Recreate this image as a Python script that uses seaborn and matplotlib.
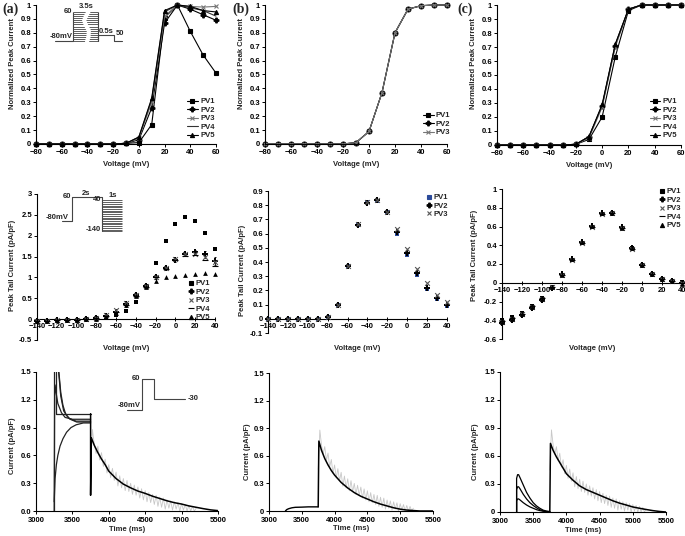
import pandas as pd
import seaborn as sns
import matplotlib.pyplot as plt
from matplotlib.lines import Line2D
from matplotlib.ticker import MultipleLocator, FormatStrFormatter

# ---------------- data ----------------
act_mv = [-80, -70, -60, -50, -40, -30, -20, -10, 0, 10, 20, 30, 40, 50, 60]
act_a = {
    "PV1": [0, 0, 0, 0, 0, 0, 0, 0.005, 0.01, 0.14, 0.91, 1.0, 0.81, 0.64, 0.51],
    "PV2": [0, 0, 0, 0, 0, 0, 0, 0.005, 0.03, 0.26, 0.87, 1.0, 0.97, 0.93, 0.89],
    "PV3": [0, 0, 0, 0, 0, 0, 0, 0.005, 0.04, 0.30, 0.92, 1.0, 0.99, 0.985, 0.99],
    "PV4": [0, 0, 0, 0, 0, 0, 0, 0.005, 0.05, 0.32, 0.95, 1.0, 0.98, 0.96, 0.92],
    "PV5": [0, 0, 0, 0, 0, 0, 0, 0.005, 0.05, 0.33, 0.96, 1.0, 0.99, 0.96, 0.95],
}
act_b = {
    "PV1": [0, 0, 0, 0, 0, 0, 0, 0.01, 0.09, 0.37, 0.80, 0.97, 0.995, 1.0, 1.0],
    "PV2": [0, 0, 0, 0, 0, 0, 0, 0.01, 0.09, 0.37, 0.80, 0.97, 0.995, 1.0, 1.0],
    "PV3": [0, 0, 0, 0, 0, 0, 0, 0.01, 0.09, 0.37, 0.80, 0.97, 0.995, 1.0, 1.0],
}
act_c = {
    "PV1": [0, 0, 0, 0, 0, 0, 0.005, 0.04, 0.20, 0.63, 0.96, 1.0, 1.0, 1.0, 1.0],
    "PV2": [0, 0, 0, 0, 0, 0, 0.005, 0.06, 0.28, 0.71, 0.97, 1.0, 1.0, 1.0, 1.0],
    "PV3": [0, 0, 0, 0, 0, 0, 0.005, 0.05, 0.27, 0.70, 0.97, 1.0, 1.0, 1.0, 1.0],
    "PV4": [0, 0, 0, 0, 0, 0, 0.005, 0.06, 0.28, 0.72, 0.97, 1.0, 1.0, 1.0, 1.0],
    "PV5": [0, 0, 0, 0, 0, 0, 0.005, 0.06, 0.29, 0.72, 0.97, 1.0, 1.0, 1.0, 1.0],
}

tail_mv = [-140, -130, -120, -110, -100, -90, -80, -70, -60, -50, -40, -30, -20, -10, 0, 10, 20, 30, 40]
tail_a = {
    "PV1": [-0.05, -0.05, -0.04, -0.03, -0.02, 0.0, 0.02, 0.05, 0.09, 0.19, 0.40, 0.79, 1.34, 1.88, 2.28, 2.44, 2.36, 2.07, 1.69],
    "PV2": [-0.04, -0.04, -0.03, -0.02, -0.02, 0.0, 0.02, 0.08, 0.18, 0.36, 0.57, 0.79, 1.01, 1.22, 1.42, 1.55, 1.60, 1.55, 1.40],
    "PV3": [-0.04, -0.04, -0.03, -0.02, -0.02, 0.0, 0.03, 0.10, 0.22, 0.39, 0.59, 0.79, 1.02, 1.22, 1.43, 1.55, 1.57, 1.50, 1.38],
    "PV4": [-0.04, -0.04, -0.03, -0.02, -0.02, 0.0, 0.02, 0.07, 0.17, 0.35, 0.56, 0.78, 1.00, 1.21, 1.41, 1.52, 1.54, 1.42, 1.28],
    "PV5": [-0.04, -0.04, -0.03, -0.02, -0.02, 0.0, 0.01, 0.05, 0.14, 0.33, 0.55, 0.78, 0.91, 1.00, 1.04, 1.06, 1.09, 1.10, 1.09],
}
tail_a_err = [0, 0, 0, 0, 0, 0.01, 0.03, 0.05, 0.07, 0.06, 0.05, 0.03, 0.04, 0.03, 0.04, 0.04, 0.05, 0.08, 0.10]
tail_b = {
    "PV1": [0, 0, 0, 0, 0, 0, 0.01, 0.10, 0.37, 0.66, 0.82, 0.83, 0.75, 0.60, 0.45, 0.31, 0.21, 0.14, 0.09],
    "PV2": [0, 0, 0, 0, 0, 0, 0.01, 0.10, 0.37, 0.66, 0.815, 0.835, 0.75, 0.61, 0.46, 0.32, 0.22, 0.145, 0.095],
    "PV3": [0, 0, 0, 0, 0, 0, 0.01, 0.10, 0.37, 0.67, 0.82, 0.84, 0.75, 0.63, 0.49, 0.35, 0.25, 0.17, 0.12],
}
tail_c = {
    "PV1": [-0.40, -0.37, -0.32, -0.25, -0.16, -0.05, 0.08, 0.24, 0.42, 0.60, 0.73, 0.74, 0.58, 0.37, 0.19, 0.09, 0.04, 0.015, 0.005],
    "PV2": [-0.43, -0.40, -0.34, -0.27, -0.18, -0.06, 0.09, 0.25, 0.43, 0.61, 0.74, 0.74, 0.59, 0.37, 0.19, 0.09, 0.04, 0.015, 0.0],
    "PV3": [-0.42, -0.39, -0.33, -0.26, -0.17, -0.05, 0.08, 0.24, 0.42, 0.60, 0.73, 0.74, 0.58, 0.36, 0.19, 0.09, 0.04, 0.015, 0.0],
    "PV4": [-0.41, -0.38, -0.33, -0.25, -0.16, -0.05, 0.08, 0.24, 0.42, 0.60, 0.73, 0.74, 0.58, 0.36, 0.19, 0.09, 0.04, 0.015, 0.0],
    "PV5": [-0.42, -0.39, -0.33, -0.26, -0.17, -0.05, 0.08, 0.25, 0.43, 0.61, 0.74, 0.74, 0.58, 0.37, 0.19, 0.09, 0.04, 0.015, -0.01],
}

# current traces (ms, pA/pF)
pre_a = [
    ([3250, 3250, 3280, 3280, 3750], [0.0, 1.6, 1.6, 1.05, 1.05]),
    ([3250, 3256, 3262, 3275, 3300, 3350, 3400, 3500, 3750], [0.0, 1.25, 1.36, 1.28, 1.16, 1.06, 1.01, 0.99, 0.99]),
    ([3262, 3300, 3320, 3340, 3380, 3450, 3550, 3750], [1.6, 1.6, 1.42, 1.24, 1.08, 1.00, 0.97, 0.97]),
    ([3300, 3320, 3340, 3370, 3410, 3470, 3560, 3750], [1.6, 1.45, 1.28, 1.14, 1.04, 0.99, 0.96, 0.96]),
    ([3250, 3262, 3280, 3300, 3330, 3370, 3420, 3480, 3550, 3650, 3750], [0.1, 0.35, 0.5, 0.6, 0.70, 0.78, 0.85, 0.90, 0.93, 0.95, 0.95]),
]
pre_b = [
    ([3250, 3270, 3300, 3350, 3400, 3500, 3600, 3750], [0.0, 0.015, 0.025, 0.035, 0.04, 0.042, 0.045, 0.045]),
]
pre_c_t = [3250, 3250, 3265, 3280, 3300, 3350, 3400, 3450, 3500, 3550, 3600, 3650, 3700, 3750]
pre_c = [
    [0, 0.36, 0.40, 0.40, 0.37, 0.29, 0.21, 0.15, 0.10, 0.065, 0.04, 0.02, 0.01, 0.005],
    [0, 0.24, 0.27, 0.27, 0.25, 0.19, 0.14, 0.10, 0.07, 0.045, 0.025, 0.012, 0.006, 0.003],
    [0, 0.12, 0.14, 0.14, 0.13, 0.10, 0.075, 0.055, 0.04, 0.025, 0.015, 0.008, 0.004, 0.002],
]
decay_t = [3750, 3750, 3760, 3800, 3850, 3900, 3950, 4000, 4100, 4200, 4300, 4400, 4500, 4600,
           4700, 4800, 4900, 5000, 5100, 5200, 5300, 5400, 5500]
decay_a = [1.05, 0.17, 0.79, 0.71, 0.63, 0.56, 0.50, 0.43, 0.35, 0.29, 0.25, 0.215, 0.19, 0.16,
           0.135, 0.11, 0.09, 0.075, 0.055, 0.04, 0.025, 0.012, 0.004]
decay_b = [0.045, 0.045, 0.76, 0.66, 0.57, 0.50, 0.44, 0.39, 0.31, 0.25, 0.20, 0.16, 0.13, 0.10,
           0.075, 0.055, 0.035, 0.02, 0.01, 0.005, 0.0, 0.0, 0.0]
decay_c = [0.0, 0.0, 0.735, 0.66, 0.59, 0.53, 0.47, 0.41, 0.34, 0.28, 0.24, 0.21, 0.18, 0.15,
           0.12, 0.095, 0.075, 0.054, 0.04, 0.027, 0.015, 0.006, 0.0]
raw_t = [3750, 3775, 3800, 3825, 3850, 3875, 3900, 3925, 3950, 3975, 4000, 4025, 4050, 4075, 4100,
         4125, 4150, 4175, 4200, 4225, 4250, 4275, 4300, 4325, 4350, 4375, 4400, 4425, 4450, 4475,
         4500, 4525, 4550, 4575, 4600, 4625, 4650, 4675, 4700, 4725, 4750, 4775, 4800, 4825, 4850,
         4875, 4900, 4925, 4950, 4975, 5000, 5025, 5050, 5075, 5100, 5125, 5150, 5175, 5200]
raw_i = [0.45, 0.88, 0.72, 0.62, 0.70, 0.55, 0.63, 0.48, 0.56, 0.41,
         0.50, 0.36, 0.46, 0.33, 0.42, 0.27, 0.38, 0.25, 0.35, 0.22,
         0.33, 0.21, 0.30, 0.18, 0.28, 0.17, 0.26, 0.14, 0.24, 0.12,
         0.22, 0.10, 0.20, 0.09, 0.18, 0.07, 0.17, 0.05, 0.15, 0.04,
         0.14, 0.02, 0.12, 0.03, 0.11, 0.01, 0.10, 0.02, 0.09, 0.0,
         0.08, 0.01, 0.07, 0.0, 0.06, 0.0, 0.05, 0.0, 0.03]

# voltage protocols (schematic time units, mV)
proto1_steps = [-80, -70, -60, -50, -40, -30, -20, -10, 0, 10, 20, 30, 40, 50, 60]
proto1_tail_t = [2.4, 2.4, 3.3, 3.3, 3.7]
proto1_tail_mv = [-80, -50, -50, -80, -80]
proto2_t = [0, 0.5, 0.5, 2.0, 2.0]
proto2_mv = [-80, -80, 60, 60, -140]
proto2_steps = [-140, -130, -120, -110, -100, -90, -80, -70, -60, -50, -40, -30, -20, -10, 0, 10, 20, 30, 40]
proto3_t = [0, 0.5, 0.5, 0.9, 0.9, 1.93]
proto3_mv = [-80, -80, 60, 60, -30, -30]

# ---------------- style ----------------
sns.set_style("ticks")
plt.rcParams['font.family'] = ['Liberation Sans', 'DejaVu Sans']
plt.rcParams['font.weight'] = 'bold'
plt.rcParams['axes.labelweight'] = 'bold'
plt.rcParams['font.size'] = 5.5
FS = 5.5

W, H = 685, 536
fig = plt.figure(figsize=(W / 100, H / 100), dpi=100)


def px_axes(l, t, r, b):
    return fig.add_axes([l / W, 1 - b / H, (r - l) / W, (b - t) / H])


def style_axes(ax, xlim, ylim, xstep, ystep, yfmt='%g'):
    ax.set_xlim(*xlim)
    ax.set_ylim(*ylim)
    ax.xaxis.set_major_locator(MultipleLocator(xstep))
    ax.yaxis.set_major_locator(MultipleLocator(ystep))
    ax.yaxis.set_major_formatter(FormatStrFormatter(yfmt))
    for s in ['top', 'right']:
        ax.spines[s].set_visible(False)
    for s in ['left', 'bottom']:
        ax.spines[s].set_linewidth(0.8)
        ax.spines[s].set_color('k')
    ax.tick_params(labelsize=FS, length=2, width=0.7, pad=1.5, colors='k')


def set_labels(ax, xl, yl, xy, yx, yy=0.5):
    ax.set_xlabel(xl, fontsize=FS, fontweight='bold')
    ax.set_ylabel(yl, fontsize=FS, fontweight='bold')
    ax.xaxis.label.set_va('center')
    ax.yaxis.label.set_va('center')
    ax.xaxis.set_label_coords(0.5, xy)
    ax.yaxis.set_label_coords(yx, yy)


def add_legend(ax, styles, x, y, line=True):
    handles = []
    for name, (m, c, ms) in styles.items():
        handles.append(Line2D([], [], color=c, marker=m if m else None, ls='-' if line else 'none',
                              lw=0.8, markersize=ms, mec=c, mew=0.8))
    ax.legend(handles, list(styles.keys()), loc='upper left', bbox_to_anchor=(x, y), frameon=False,
              fontsize=FS, handlelength=1.4 if line else 0.6, handletextpad=0.3,
              labelspacing=0.15, borderpad=0, borderaxespad=0)


line_styles = {"PV1": ('s', 'k', 3), "PV2": ('P', 'k', 3.5), "PV3": ('x', '#777777', 3),
               "PV4": (None, '#333333', 3), "PV5": ('^', 'k', 3)}
dot_styles = {"PV1": ('s', 'k', 3), "PV2": ('P', 'k', 3.5), "PV3": ('x', '#555555', 3),
              "PV4": ('_', 'k', 4), "PV5": ('^', 'k', 3)}

# ---------------- row 1: activation ----------------
row1 = [(act_a, (36, 5, 216, 144), (0.839, 0.33)),
        (act_b, (265, 5, 447, 144), (0.868, 0.23)),
        (act_c, (497, 5, 681, 145), (0.83, 0.335))]
for data, box, leg in row1:
    ax = px_axes(*box)
    for name, vals in data.items():
        m, c, ms = line_styles[name]
        kw = dict(marker=m, markersize=ms, markeredgecolor=c, markeredgewidth=0.8) if m else {}
        sns.lineplot(x=act_mv, y=vals, ax=ax, color=c, lw=0.8, clip_on=False, **kw)
    style_axes(ax, (-80, 60), (0, 1), 20, 0.1)
    set_labels(ax, 'Voltage (mV)', 'Normalized Peak Current', -0.144, -0.13 * 180 / (box[2] - box[0]), 0.58)
    add_legend(ax, {k: line_styles[k] for k in data}, *leg, line=True)

# ---------------- row 2: tail currents ----------------
row2 = [(tail_a, (37, 194, 215, 340), (-0.5, 3), 0.5, (0.854, 0.41), -0.055, -0.135, 0.51),
        (tail_b, (268, 191, 447, 333), (-0.1, 0.9), 0.1, (0.888, 0.98), -0.106, -0.14, 0.44),
        (tail_c, (502, 189, 682, 339), (-0.6, 1), 0.2, (0.878, 1.007), -0.06, -0.15, 0.56)]
for i, (data, box, ylim, ystep, leg, xly, ylx, yly) in enumerate(row2):
    ax = px_axes(*box)
    if i == 0:
        ax.errorbar(tail_mv, data["PV2"], yerr=tail_a_err, fmt='none', ecolor='k',
                    elinewidth=0.6, capsize=1, capthick=0.6, clip_on=False)
    styles = dict(dot_styles)
    if i == 1:
        styles["PV1"] = ('s', '#2b4a9a', 3)
    for name, vals in data.items():
        m, c, ms = styles[name]
        sns.scatterplot(x=tail_mv, y=vals, ax=ax, marker=m, color=c, s=ms ** 2 * 1.3,
                        linewidth=0.8 if m in ('x', '_') else 0, edgecolor=c, clip_on=False, zorder=3)
    style_axes(ax, (-140, 40), ylim, 20, ystep)
    ax.spines['bottom'].set_position(('data', 0))
    ax.tick_params(axis='x', direction='inout', length=3)
    set_labels(ax, 'Voltage (mV)', 'Peak Tail Current (pA/pF)', xly, ylx, yly)
    add_legend(ax, {k: styles[k] for k in data}, *leg, line=False)

# ---------------- row 3: current traces ----------------
row3 = [((36, 372, 218, 511), '%.1f', decay_a, -0.13, -0.13, 0.47),
        ((269, 373, 433, 511), '%g', decay_b, -0.13, -0.134, 0.43),
        ((500, 372, 666, 512), '%g', decay_c, -0.13, -0.145, 0.43)]
for i, (box, yfmt, decay, xly, ylx, yly) in enumerate(row3):
    ax = px_axes(*box)
    sns.lineplot(x=raw_t, y=raw_i, ax=ax, sort=False, estimator=None, color='#c8c8c8', lw=0.6)
    if i == 0:
        for t, cur in pre_a:
            sns.lineplot(x=t, y=cur, ax=ax, sort=False, estimator=None, color='#222222', lw=0.9)
    elif i == 1:
        for t, cur in pre_b:
            sns.lineplot(x=t, y=cur, ax=ax, sort=False, estimator=None, color='k', lw=1.0)
    else:
        for cur in pre_c:
            sns.lineplot(x=pre_c_t, y=cur, ax=ax, sort=False, estimator=None, color='k', lw=0.9)
    sns.lineplot(x=decay_t, y=decay, ax=ax, sort=False, estimator=None, color='k', lw=1.1)
    style_axes(ax, (3000, 5500), (0, 1.5), 500, 0.3, yfmt)
    ax.tick_params(axis='x', pad=2.5)
    set_labels(ax, 'Time (ms)', 'Current (pA/pF)', xly, ylx, yly)


# ---------------- protocol insets ----------------
def inset(t0_px, v0_px, px_t, px_v, tlim, vlim):
    l = t0_px + tlim[0] * px_t
    r = t0_px + tlim[1] * px_t
    b = v0_px - (vlim[0] + 80) * px_v
    t = v0_px - (vlim[1] + 80) * px_v
    ax = px_axes(l, t, r, b)
    ax.set_xlim(*tlim)
    ax.set_ylim(*vlim)
    ax.axis('off')
    return ax


pc = '#444444'
ia = inset(55, 41, 18, 0.207, (-0.6, 4.2), (-105, 95))
ia.plot([0, 1.0], [-80, -80], color=pc, lw=0.8)
ia.hlines(proto1_steps, 1.0, 2.4, color=pc, lw=0.6)
ia.vlines([1.0, 2.4], -80, 60, color=pc, lw=0.8)
ia.plot([1.86, 1.72, 1.62, 1.7, 1.88, 1.86, 1.78], [62, 40, 20, 0, -30, -60, -82], color='white', lw=3)
ia.plot(proto1_tail_t, proto1_tail_mv, color=pc, lw=0.8)
ia.text(0.97, 62, '60', ha='right', va='center', fontsize=FS)
ia.text(1.72, 88, '3.5s', ha='center', va='center', fontsize=FS)
ia.text(0.97, -77, '-80mV', ha='right', va='bottom', fontsize=FS)
ia.text(2.83, -34, '0.5s', ha='center', va='center', fontsize=FS)
ia.text(3.6, -46, '50', ha='center', va='center', fontsize=FS)

ib = inset(62, 221, 20, 0.171, (-1.0, 3.2), (-160, 90))
ib.plot(proto2_t, proto2_mv, color=pc, lw=0.8)
ib.hlines(proto2_steps, 2.0, 3.0, color=pc, lw=0.6)
ib.text(0.45, 64, '60', ha='right', va='center', fontsize=FS)
ib.text(1.2, 80, '2s', ha='center', va='center', fontsize=FS)
ib.text(1.95, 44, '40', ha='right', va='center', fontsize=FS)
ib.text(2.55, 72, '1s', ha='center', va='center', fontsize=FS)
ib.text(1.95, -128, '-140', ha='right', va='center', fontsize=FS)
ib.text(0.35, -58, '-80mV', ha='right', va='center', fontsize=FS)

ic = inset(127, 410, 30, 0.221, (-0.6, 2.4), (-100, 80))
ic.plot(proto3_t, proto3_mv, color=pc, lw=0.8)
ic.text(0.45, 62, '60', ha='right', va='center', fontsize=FS)
ic.text(0.47, -74, '-80mV', ha='right', va='bottom', fontsize=FS)
ic.text(2.03, -30, '-30', ha='left', va='center', fontsize=FS)

# ---------------- panel letters ----------------
for x, lab in [(2, '(a)'), (232, '(b)'), (457, '(c)')]:
    fig.text(x / W, 1 - 9 / H, lab, ha='left', va='center', fontsize=10, fontweight='bold',
             family=['Liberation Serif', 'DejaVu Serif'])

fig.savefig('out.png', dpi=100)
